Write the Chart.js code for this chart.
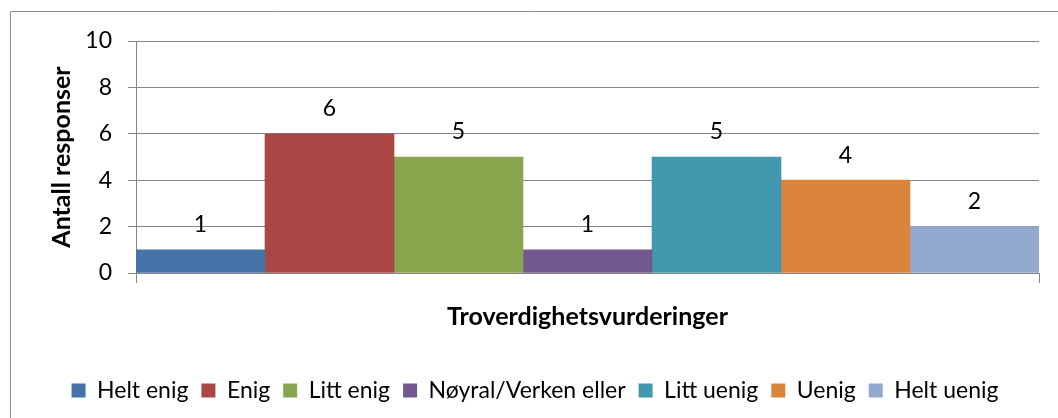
<!DOCTYPE html>
<html>
<head>
<meta charset="utf-8">
<script src="https://cdn.jsdelivr.net/npm/chart.js@4"></script>
<style>
  html, body { margin: 0; padding: 0; background: #fff; }
  #wrap { width: 1058px; height: 418px; }
</style>
</head>
<body>
<div id="wrap"><canvas id="grafik" width="1058" height="418"></canvas></div>
<script>
// Data fra figuren
const kategorier = ['Helt enig', 'Enig', 'Litt enig', 'Nøyral/Verken eller', 'Litt uenig', 'Uenig', 'Helt uenig'];
const verdier = [1, 6, 5, 1, 5, 4, 2];
const farger = ['#4572A7', '#AA4643', '#89A54E', '#71588F', '#4198AF', '#DB843D', '#93A9CF'];
const yTicks = [0, 2, 4, 6, 8, 10];
const yTittel = 'Antall responser';
const xTittel = 'Troverdighetsvurderinger';

const FONT = "Lato, 'Open Sans', sans-serif";
const GRID = '#868686';

// Ramme rundt diagrammet (topp og venstre, resten er utenfor bildet)
const rammePlugin = {
    id: 'ramme',
    beforeDraw(chart) {
        const ctx = chart.ctx;
        ctx.save();
        ctx.strokeStyle = '#8c8c8c';
        ctx.lineWidth = 1;
        ctx.beginPath();
        ctx.moveTo(10.5, chart.height);
        ctx.lineTo(10.5, 11.5);
        ctx.lineTo(chart.width, 11.5);
        ctx.stroke();
        ctx.restore();
    }
};

// Verdier over hver stolpe
const etikettPlugin = {
    id: 'etiketter',
    afterDatasetsDraw(chart) {
        const ctx = chart.ctx;
        ctx.save();
        ctx.font = '23px ' + FONT;
        ctx.fillStyle = '#000';
        ctx.textAlign = 'center';
        ctx.textBaseline = 'middle';
        chart.data.datasets.forEach((ds, i) => {
            const bar = chart.getDatasetMeta(i).data[0];
            ctx.fillText(String(ds.data[0]), bar.x, bar.y - 25);
        });
        ctx.restore();
    }
};

new Chart(document.getElementById('grafik'), {
    type: 'bar',
    data: {
        labels: [''],
        datasets: kategorier.map((navn, i) => ({
            label: navn,
            data: [verdier[i]],
            backgroundColor: farger[i],
            borderWidth: 0,
            categoryPercentage: 1,
            barPercentage: 1
        }))
    },
    options: {
        responsive: false,
        animation: false,
        layout: { padding: { left: 31, top: 41, right: 19, bottom: 6 } },
        plugins: {
            tooltip: { enabled: false },
            legend: {
                position: 'bottom',
                labels: {
                    boxWidth: 14,
                    boxHeight: 14,
                    padding: 13,
                    color: '#000',
                    font: { family: FONT, size: 23 }
                }
            }
        },
        scales: {
            x: {
                afterFit(scale) { scale.height = 93; },
                grid: { drawOnChartArea: false, tickLength: 10, color: GRID },
                border: { color: GRID },
                ticks: { display: false },
                title: {
                    display: true,
                    text: xTittel,
                    color: '#000',
                    font: { family: FONT, size: 25, weight: 'bold' },
                    padding: { top: 0, bottom: 34 }
                }
            },
            y: {
                min: 0,
                max: 10,
                afterFit(scale) { scale.width = 105; },
                afterBuildTicks(scale) { scale.ticks = yTicks.map(v => ({ value: v })); },
                grid: { color: GRID, tickLength: 8 },
                border: { color: GRID },
                ticks: {
                    padding: 16,
                    color: '#000',
                    font: { family: FONT, size: 23 }
                },
                title: {
                    display: true,
                    text: yTittel,
                    color: '#000',
                    font: { family: FONT, size: 25, weight: 'bold' },
                    padding: { top: 16, bottom: 0 }
                }
            }
        }
    },
    plugins: [rammePlugin, etikettPlugin]
});
</script>
</body>
</html>
